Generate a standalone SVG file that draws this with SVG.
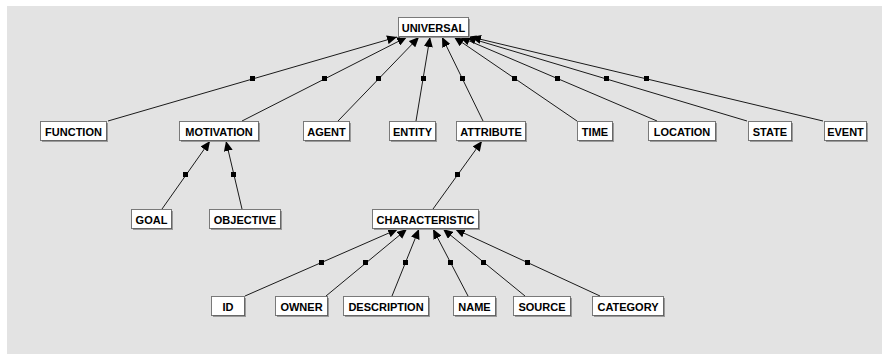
<svg xmlns="http://www.w3.org/2000/svg" width="882" height="354" viewBox="0 0 882 354">
  <style>
    .bg { fill: #e3e3e3; }
    .shadow { fill: #9a9a9a; }
    .box { fill: #ffffff; stroke: #000000; stroke-width: 1; stroke-dasharray: 1 1; }
    .label { font-family: "Liberation Sans", Arial, sans-serif; font-size: 11px; font-weight: bold; fill: #000000; text-anchor: middle; }
    .edge { stroke: #1a1a1a; stroke-width: 1; fill: none; marker-end: url(#head); }
    .knot { fill: #000000; }
  </style>
  <defs>
    <marker id="head" markerUnits="userSpaceOnUse" markerWidth="11" markerHeight="9" refX="10" refY="4.5" orient="auto">
      <path d="M0,0 L10,4.5 L0,9 Z" fill="#000000"/>
    </marker>
  </defs>

  <rect class="bg" x="7" y="6" width="875" height="348"/>

  <!-- connectors: child -> parent, with a small square at each midpoint -->
  <g id="connectors">
    <line class="edge" x1="108" y1="121" x2="397" y2="37"/>
    <line class="edge" x1="242" y1="121" x2="407" y2="37"/>
    <line class="edge" x1="338" y1="121" x2="419" y2="37"/>
    <line class="edge" x1="416" y1="121" x2="430" y2="37"/>
    <line class="edge" x1="483" y1="121" x2="442" y2="37"/>
    <line class="edge" x1="577" y1="121" x2="454" y2="37"/>
    <line class="edge" x1="657" y1="121" x2="460" y2="37"/>
    <line class="edge" x1="747" y1="121" x2="466" y2="37"/>
    <line class="edge" x1="823" y1="121" x2="471" y2="37"/>

    <line class="edge" x1="162" y1="209" x2="210" y2="141"/>
    <line class="edge" x1="242" y1="209" x2="226" y2="141"/>
    <line class="edge" x1="433" y1="209" x2="482" y2="141"/>

    <line class="edge" x1="245" y1="296" x2="398" y2="229"/>
    <line class="edge" x1="326" y1="296" x2="407" y2="229"/>
    <line class="edge" x1="392" y1="296" x2="419" y2="229"/>
    <line class="edge" x1="468" y1="296" x2="433" y2="229"/>
    <line class="edge" x1="525" y1="296" x2="443" y2="229"/>
    <line class="edge" x1="600" y1="296" x2="455" y2="229"/>

    <rect class="knot" x="250" y="76" width="5" height="5"/>
    <rect class="knot" x="322" y="76" width="5" height="5"/>
    <rect class="knot" x="376" y="76" width="5" height="5"/>
    <rect class="knot" x="421" y="76" width="5" height="5"/>
    <rect class="knot" x="460" y="76" width="5" height="5"/>
    <rect class="knot" x="512" y="76" width="5" height="5"/>
    <rect class="knot" x="555" y="76" width="5" height="5"/>
    <rect class="knot" x="604" y="76" width="5" height="5"/>
    <rect class="knot" x="644" y="76" width="5" height="5"/>

    <rect class="knot" x="183" y="172" width="5" height="5"/>
    <rect class="knot" x="231" y="172" width="5" height="5"/>
    <rect class="knot" x="455" y="172" width="5" height="5"/>

    <rect class="knot" x="319" y="260" width="5" height="5"/>
    <rect class="knot" x="363" y="260" width="5" height="5"/>
    <rect class="knot" x="403" y="260" width="5" height="5"/>
    <rect class="knot" x="448" y="260" width="5" height="5"/>
    <rect class="knot" x="481" y="260" width="5" height="5"/>
    <rect class="knot" x="525" y="260" width="5" height="5"/>
  </g>

  <!-- nodes -->
  <g id="universal">
    <rect class="shadow" x="400" y="19" width="70" height="19"/>
    <rect class="box" x="398.5" y="17.5" width="70" height="19"/>
    <text class="label" x="433.5" y="31.5">UNIVERSAL</text>
  </g>

  <g id="function">
    <rect class="shadow" x="42" y="123" width="66" height="19"/>
    <rect class="box" x="40.5" y="121.5" width="66" height="19"/>
    <text class="label" x="73.5" y="135.5">FUNCTION</text>
  </g>
  <g id="motivation">
    <rect class="shadow" x="181" y="123" width="79" height="19"/>
    <rect class="box" x="179.5" y="121.5" width="79" height="19"/>
    <text class="label" x="219" y="135.5">MOTIVATION</text>
  </g>
  <g id="agent">
    <rect class="shadow" x="305" y="123" width="46" height="19"/>
    <rect class="box" x="303.5" y="121.5" width="46" height="19"/>
    <text class="label" x="326.5" y="135.5">AGENT</text>
  </g>
  <g id="entity">
    <rect class="shadow" x="391" y="123" width="46" height="19"/>
    <rect class="box" x="389.5" y="121.5" width="46" height="19"/>
    <text class="label" x="412.5" y="135.5">ENTITY</text>
  </g>
  <g id="attribute">
    <rect class="shadow" x="458" y="123" width="69" height="19"/>
    <rect class="box" x="456.5" y="121.5" width="69" height="19"/>
    <text class="label" x="491" y="135.5">ATTRIBUTE</text>
  </g>
  <g id="time">
    <rect class="shadow" x="579" y="123" width="35" height="19"/>
    <rect class="box" x="577.5" y="121.5" width="35" height="19"/>
    <text class="label" x="595" y="135.5">TIME</text>
  </g>
  <g id="location">
    <rect class="shadow" x="650" y="123" width="67" height="19"/>
    <rect class="box" x="648.5" y="121.5" width="67" height="19"/>
    <text class="label" x="682" y="135.5">LOCATION</text>
  </g>
  <g id="state">
    <rect class="shadow" x="750" y="123" width="43" height="19"/>
    <rect class="box" x="748.5" y="121.5" width="43" height="19"/>
    <text class="label" x="770" y="135.5">STATE</text>
  </g>
  <g id="event">
    <rect class="shadow" x="826" y="123" width="42" height="19"/>
    <rect class="box" x="824.5" y="121.5" width="42" height="19"/>
    <text class="label" x="845.5" y="135.5">EVENT</text>
  </g>

  <g id="goal">
    <rect class="shadow" x="133" y="211" width="40" height="19"/>
    <rect class="box" x="131.5" y="209.5" width="40" height="19"/>
    <text class="label" x="151.5" y="223.5">GOAL</text>
  </g>
  <g id="objective">
    <rect class="shadow" x="211" y="211" width="71" height="19"/>
    <rect class="box" x="209.5" y="209.5" width="71" height="19"/>
    <text class="label" x="245" y="223.5">OBJECTIVE</text>
  </g>
  <g id="characteristic">
    <rect class="shadow" x="374" y="211" width="106" height="19"/>
    <rect class="box" x="372.5" y="209.5" width="106" height="19"/>
    <text class="label" x="425.5" y="223.5">CHARACTERISTIC</text>
  </g>

  <g id="id">
    <rect class="shadow" x="213" y="298" width="33" height="19"/>
    <rect class="box" x="211.5" y="296.5" width="33" height="19"/>
    <text class="label" x="228" y="310.5">ID</text>
  </g>
  <g id="owner">
    <rect class="shadow" x="277" y="298" width="52" height="19"/>
    <rect class="box" x="275.5" y="296.5" width="52" height="19"/>
    <text class="label" x="301.5" y="310.5">OWNER</text>
  </g>
  <g id="description">
    <rect class="shadow" x="345" y="298" width="85" height="19"/>
    <rect class="box" x="343.5" y="296.5" width="85" height="19"/>
    <text class="label" x="386" y="310.5">DESCRIPTION</text>
  </g>
  <g id="name">
    <rect class="shadow" x="455" y="298" width="42" height="19"/>
    <rect class="box" x="453.5" y="296.5" width="42" height="19"/>
    <text class="label" x="474.5" y="310.5">NAME</text>
  </g>
  <g id="source">
    <rect class="shadow" x="515" y="298" width="57" height="19"/>
    <rect class="box" x="513.5" y="296.5" width="57" height="19"/>
    <text class="label" x="542" y="310.5">SOURCE</text>
  </g>
  <g id="category">
    <rect class="shadow" x="594" y="298" width="71" height="19"/>
    <rect class="box" x="592.5" y="296.5" width="71" height="19"/>
    <text class="label" x="628" y="310.5">CATEGORY</text>
  </g>
</svg>
